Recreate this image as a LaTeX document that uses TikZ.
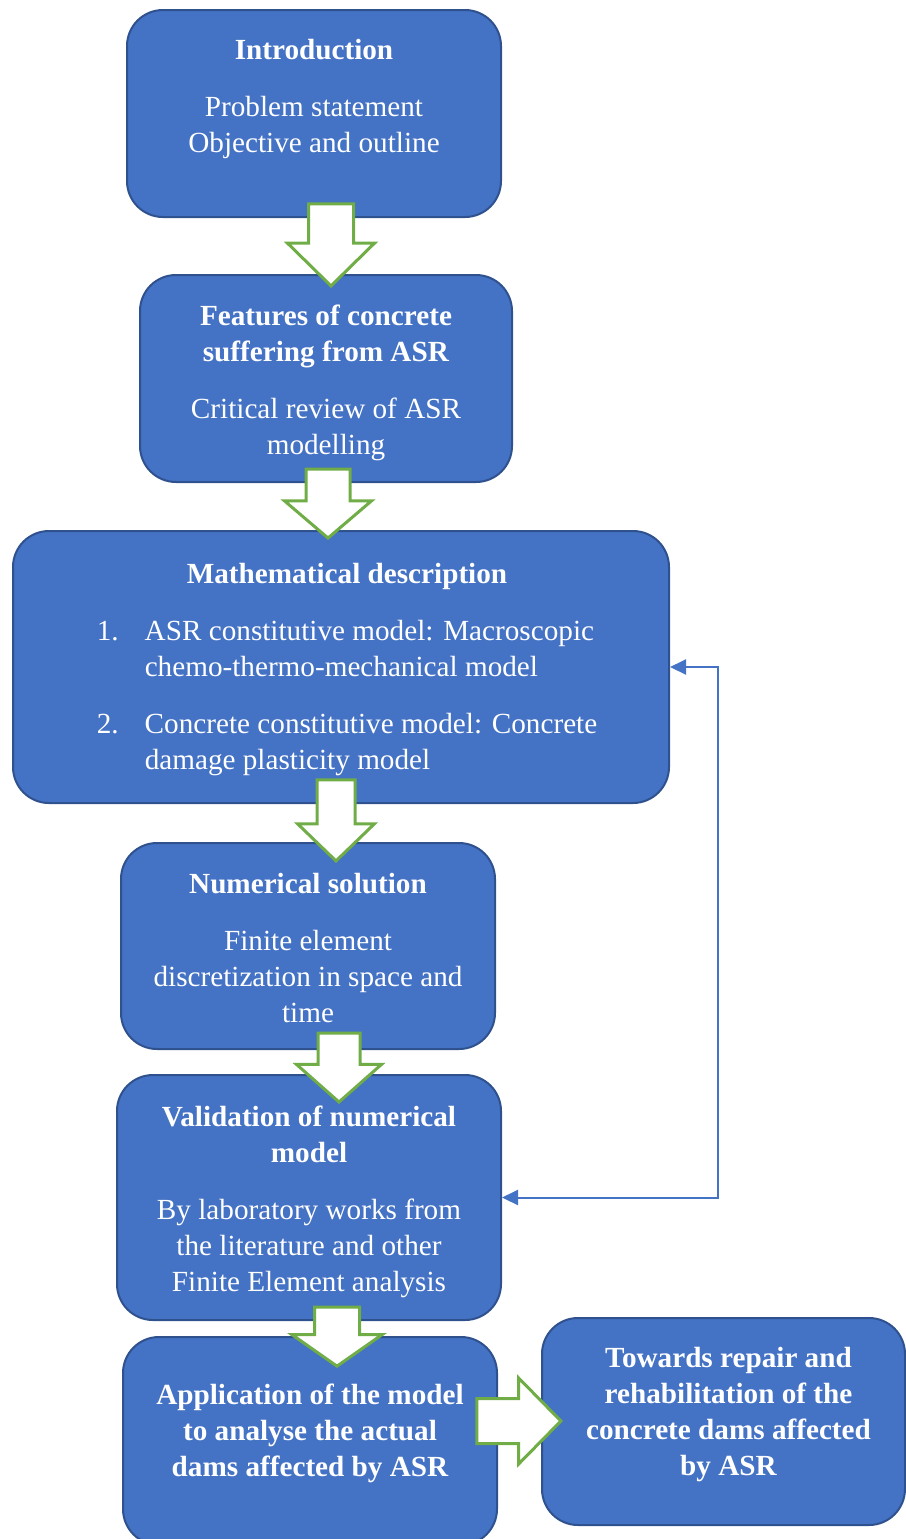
\documentclass[tikz,border=0pt]{standalone}
\usepackage{fontspec}
\setmainfont{Liberation Serif}
\usetikzlibrary{shapes.arrows,arrows.meta}
\definecolor{boxblue}{HTML}{4472C4}
\definecolor{boxedge}{HTML}{2F528F}
\definecolor{arrgreen}{HTML}{70AD47}
\tikzset{
  blocco/.style={draw=boxedge, fill=boxblue, line width=1pt, rounded corners=18pt},
  testo/.style={text=white, align=center, font=\fontsize{14.6}{18}\selectfont},
  grassetto/.style={testo, font=\fontsize{14.6}{18}\selectfont\bfseries},
  freccia/.style={single arrow, draw=arrgreen, fill=white, line width=1.5pt, inner xsep=0pt, anchor=tip},
  ritorno/.style={draw=boxblue, line width=1pt, {Triangle[length=8pt,width=7.5pt]}-{Triangle[length=8pt,width=7.5pt]}}
}
\begin{document}
\begin{tikzpicture}[x=0.5pt,y=-0.5pt]
  \useasboundingbox (0,0) rectangle (906,1539);
  \clip (0,0) rectangle (906,1539);
  % blocchi
  \node[blocco, minimum width=187pt, minimum height=103.5pt] (intro)   at (314,113.5) {};
  \node[blocco, minimum width=186pt, minimum height=103.5pt] (feat)    at (326,378.5) {};
  \node[blocco, minimum width=328pt, minimum height=136pt]   (math)    at (341,667)   {};
  \node[blocco, minimum width=187pt, minimum height=103pt]   (numsol)  at (308,946)   {};
  \node[blocco, minimum width=192pt, minimum height=122.5pt] (valid)   at (309,1197.5) {};
  \node[blocco, minimum width=187pt, minimum height=104pt]   (appl)    at (310,1441)  {};
  \node[blocco, minimum width=181.5pt, minimum height=103.5pt] (towards) at (723.5,1421.5) {};

  \node[testo] (introtext) at ([yshift=7.5pt]intro.center)
    {\textbf{Introduction}\\[10.5pt]Problem statement\\Objective and outline};
  \node[testo] (feattext) at ([yshift=-2pt]feat.center)
    {\textbf{Features of concrete}\\\textbf{suffering from ASR}\\[10.5pt]Critical review of ASR\\modelling};
  \node[testo] (mathtext) at ([xshift=3pt,yshift=-2.5pt]math.center)
    {\textbf{Mathematical description}\\[10.5pt]
     \begin{tabular}[t]{@{}p{24pt}@{}l@{}}
       1. & ASR constitutive model: Macroscopic\\
          & chemo-thermo-mechanical model\\[10.5pt]
       2. & Concrete constitutive model: Concrete\\
          & damage plasticity model
     \end{tabular}};
  \node[testo] (numsoltext) at ([yshift=-1pt]numsol.center)
    {\textbf{Numerical solution}\\[10.5pt]Finite element\\discretization in space and\\time};
  \node[testo] (validtext) at ([yshift=-2pt]valid.center)
    {\textbf{Validation of numerical}\\\textbf{model}\\[10.5pt]By laboratory works from\\the literature and other\\Finite Element analysis};
  \node[grassetto] (appltext) at ([yshift=4pt]appl.center)
    {Application of the model\\to analyse the actual\\dams affected by ASR};
  \node[grassetto] (towardstext) at ([xshift=2.5pt,yshift=3.5pt]towards.center)
    {Towards repair and\\rehabilitation of the\\concrete dams affected\\by ASR};

  % frecce verdi (posizionate sulla punta)
  \node[freccia, rotate=-90, minimum height=41pt,   inner ysep=10.5pt,  single arrow head extend=10.5pt,  single arrow tip angle=91]  (a1) at (331,288)  {};
  \node[freccia, rotate=-90, minimum height=34.5pt, inner ysep=10.25pt, single arrow head extend=10.75pt, single arrow tip angle=99]  (a2) at (328,540)  {};
  \node[freccia, rotate=-90, minimum height=40.5pt, inner ysep=8.75pt,  single arrow head extend=9.75pt,  single arrow tip angle=92]  (a3) at (336,863)  {};
  \node[freccia, rotate=-90, minimum height=34.5pt, inner ysep=9.75pt,  single arrow head extend=10.75pt, single arrow tip angle=97]  (a4) at (339,1104) {};
  \node[freccia, rotate=-90, minimum height=29.5pt, inner ysep=10.5pt,  single arrow head extend=11.25pt, single arrow tip angle=110] (a5) at (337,1368) {};
  \node[freccia, minimum height=42pt, inner ysep=10.5pt, single arrow head extend=10.25pt, single arrow tip angle=91] (a6) at (563,1421) {};

  \draw[ritorno] (math.east) -- ++(48,0) |- (valid.east);
\end{tikzpicture}
\end{document}
